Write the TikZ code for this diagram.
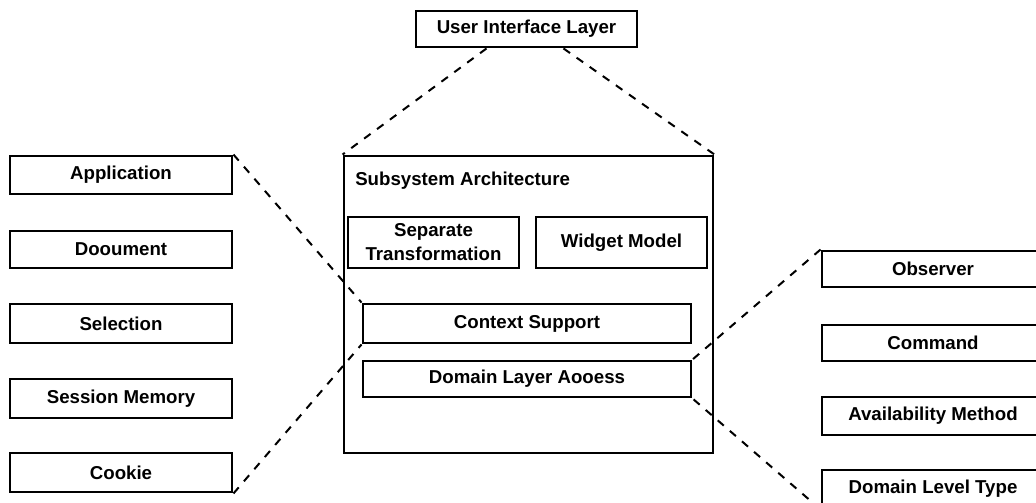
\documentclass[tikz,border=0pt]{standalone}
\usepackage{fontspec}
\setmainfont{Liberation Sans}
\begin{document}
\begin{tikzpicture}[x=0.75pt,y=-0.75pt,
  box/.style={draw=black, line width=2.2pt, fill=white, inner sep=0pt, align=center,
    font=\bfseries\fontsize{14}{18}\selectfont},
  side/.style={box, minimum width=166.5pt, minimum height=28.5pt},
  link/.style={draw=black, line width=1.5pt, dash pattern=on 6pt off 6pt}]
\useasboundingbox (0,0) rectangle (1036,503);
\clip (0,0) rectangle (1036,503);
% top
\node[box, minimum width=165.75pt, minimum height=27pt] (ui) at (526.5,29) {User Interface Layer};
% subsystem
\node[box, minimum width=276.75pt, minimum height=222.75pt] (sub) at (528.5,304.5) {};
\node[anchor=west, font=\bfseries\fontsize{14}{18}\selectfont, inner sep=0pt] (subt) at (355,181) {Subsystem Architecture};
\node[box, minimum width=128.25pt, minimum height=38.25pt] (sep) at (433.5,242.5) {Separate\\Transformation};
\node[box, minimum width=128.25pt, minimum height=38.25pt] (wid) at (621.5,242.5) {Widget Model};
\node[box, minimum width=246pt, minimum height=29.25pt] (ctx) at (527,323.5) {Context Support};
\node[box, minimum width=246pt, minimum height=27pt] (dla) at (527,379) {Domain Layer Aooess};
% left
\node[side] (app) at (121,175) {Application};
\node[side, minimum height=27.75pt] (doc) at (121,249.5) {Dooument};
\node[side, minimum height=29.25pt] (sel) at (121,323.5) {Selection};
\node[side, minimum height=29.25pt] (ses) at (121,398.5) {Session Memory};
\node[side, minimum height=29.25pt] (coo) at (121,472.5) {Cookie};
% right
\node[side, minimum height=27pt] (obs) at (933,269) {Observer};
\node[side, minimum height=27pt] (cmd) at (933,343) {Command};
\node[side] (ava) at (933,416) {Availability Method};
\node[side] (dlt) at (933,489) {Domain Level Type};
% links
\draw[link] (ui.south) ++(-40,0) coordinate (uil) -- (sub.north west);
\draw[link] (ui.south) ++(37,0) coordinate (uir) -- (sub.north east);
\draw[link] (app.north east) -- (ctx.north west);
\draw[link] (coo.south east) -- (ctx.south west);
\draw[link] (obs.north west) -- (dla.north east);
\draw[link] (dlt.south west) -- (dla.south east);
\end{tikzpicture}
\end{document}
